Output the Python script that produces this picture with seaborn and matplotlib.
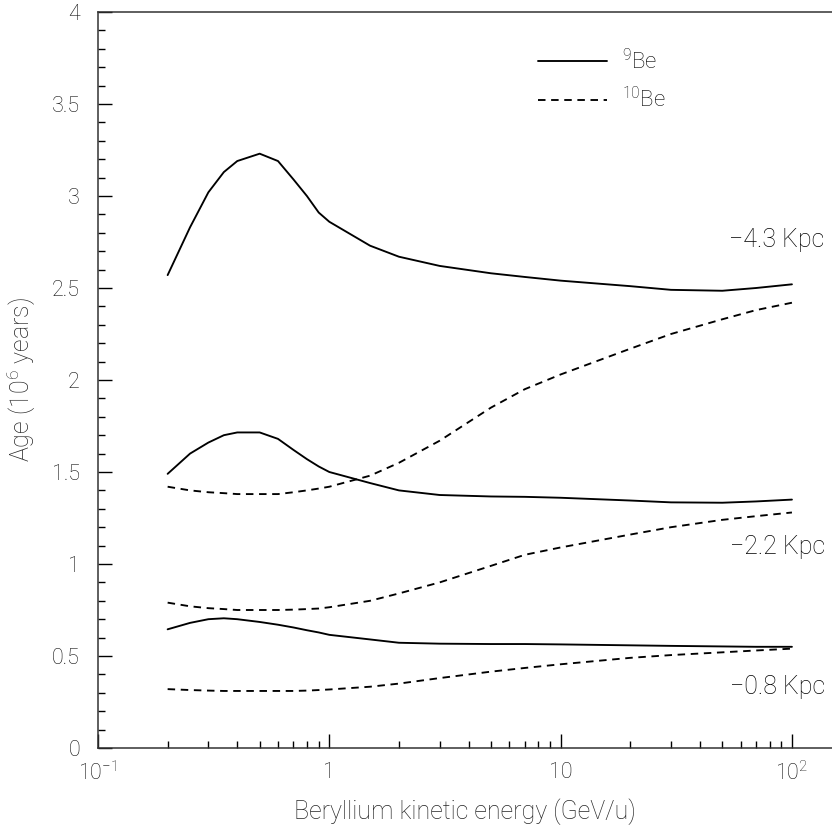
import numpy as np
import pandas as pd
import seaborn as sns
from matplotlib import pyplot as plt
from matplotlib.lines import Line2D
from matplotlib.ticker import FixedLocator, FixedFormatter, MultipleLocator

# energia (GeV/u) e eta (10^6 anni)
energy = [0.2, 0.25, 0.3, 0.35, 0.4, 0.5, 0.6, 0.7, 0.8, 0.9, 1.0, 1.5, 2, 3, 5, 7, 10, 20, 30, 50, 70, 100]

be9_43 = [2.57, 2.83, 3.02, 3.13, 3.19, 3.23, 3.19, 3.09, 3.00, 2.91, 2.86, 2.73, 2.67, 2.62, 2.58, 2.56, 2.54, 2.51, 2.49, 2.485, 2.50, 2.52]
be10_43 = [1.42, 1.40, 1.39, 1.385, 1.38, 1.38, 1.38, 1.39, 1.40, 1.41, 1.42, 1.48, 1.55, 1.67, 1.85, 1.95, 2.03, 2.17, 2.25, 2.33, 2.38, 2.42]
be9_22 = [1.49, 1.60, 1.66, 1.70, 1.715, 1.715, 1.68, 1.62, 1.57, 1.53, 1.50, 1.44, 1.40, 1.375, 1.367, 1.365, 1.36, 1.345, 1.335, 1.333, 1.34, 1.35]
be10_22 = [0.79, 0.77, 0.76, 0.755, 0.75, 0.75, 0.75, 0.752, 0.755, 0.758, 0.765, 0.80, 0.84, 0.90, 0.99, 1.05, 1.09, 1.16, 1.20, 1.24, 1.26, 1.28]
be9_08 = [0.645, 0.68, 0.70, 0.705, 0.70, 0.685, 0.67, 0.655, 0.64, 0.628, 0.615, 0.59, 0.572, 0.567, 0.565, 0.565, 0.563, 0.558, 0.555, 0.552, 0.55, 0.55]
be10_08 = [0.32, 0.315, 0.312, 0.31, 0.31, 0.31, 0.31, 0.31, 0.312, 0.315, 0.318, 0.333, 0.35, 0.38, 0.415, 0.435, 0.455, 0.49, 0.505, 0.52, 0.53, 0.54]

halo_labels = ['\u22124.3 Kpc', '\u22122.2 Kpc', '\u22120.8 Kpc']
halo_label_age = [2.76, 1.09, 0.33]

curves = {
    ('9Be', '4.3'): be9_43, ('10Be', '4.3'): be10_43,
    ('9Be', '2.2'): be9_22, ('10Be', '2.2'): be10_22,
    ('9Be', '0.8'): be9_08, ('10Be', '0.8'): be10_08,
}
rows = []
for (iso, halo), ages in curves.items():
    for e, a in zip(energy, ages):
        rows.append({'E': e, 'age': a, 'isotope': iso, 'curve': iso + '_' + halo})
df = pd.DataFrame(rows)

sns.set_style('ticks')
plt.rcParams['font.family'] = ['Roboto', 'DejaVu Sans']
plt.rcParams['font.weight'] = 'light'
plt.rcParams['axes.labelweight'] = 'light'
plt.rcParams['mathtext.default'] = 'regular'
plt.rcParams['text.color'] = 'black'
plt.rcParams['xtick.color'] = 'black'
plt.rcParams['ytick.color'] = 'black'

fig = plt.figure(figsize=(8.32, 8.35), dpi=100)
ax = fig.add_axes([98 / 832, 1 - 748 / 835, 1 - 98 / 832, (748 - 12) / 835])

sns.lineplot(data=df, x='E', y='age', units='curve', estimator=None, style='isotope',
             dashes={'9Be': '', '10Be': (4, 3)}, color='black', lw=1.35, legend=False, ax=ax)

ax.set_xscale('log')
ax.set_xlim(0.1, 149)
ax.set_ylim(0, 4)

ax.xaxis.set_major_locator(FixedLocator([0.1, 1, 10, 100]))
ax.xaxis.set_major_formatter(FixedFormatter(['$10^{-1}$', '1', '10', '$10^{2}$']))
ax.yaxis.set_minor_locator(MultipleLocator(0.1))
ax.set_yticks(np.arange(0, 4.01, 0.5))
ax.set_yticklabels(['0', '0.5', '1', '1.5', '2', '2.5', '3', '3.5', '4'])

ax.tick_params(axis='both', which='major', direction='in', length=10, width=1.0, labelsize=15.5,
               labelcolor='#111111')
ax.tick_params(axis='both', which='minor', direction='in', length=5, width=1.0)
ax.tick_params(axis='y', pad=13)
ax.tick_params(axis='x', pad=10)

for side in ['left', 'bottom', 'top']:
    ax.spines[side].set_linewidth(1.1)
    ax.spines[side].set_color('#333333')
ax.spines['right'].set_visible(False)

ax.set_xlabel('Beryllium kinetic energy (GeV/u)', fontsize=18, fontweight='light', labelpad=9)
ax.set_ylabel('Age (10$^{6}$ years)', fontsize=18, fontweight='light', labelpad=10)

for lab, a in zip(halo_labels, halo_label_age):
    ax.text(0.99, a, lab, transform=ax.get_yaxis_transform(), ha='right', va='center', fontsize=18)

handles = [Line2D([], [], color='black', lw=1.35),
           Line2D([], [], color='black', lw=1.35, dashes=(4, 3))]
ax.legend(handles, ['$^{9}$Be', '$^{10}$Be'], loc='upper left', bbox_to_anchor=(0.599, 0.95),
          frameon=False, fontsize=16, handlelength=3.1, handletextpad=0.7, labelspacing=0.6,
          borderpad=0, borderaxespad=0)

fig.savefig('out.png', dpi=100)
